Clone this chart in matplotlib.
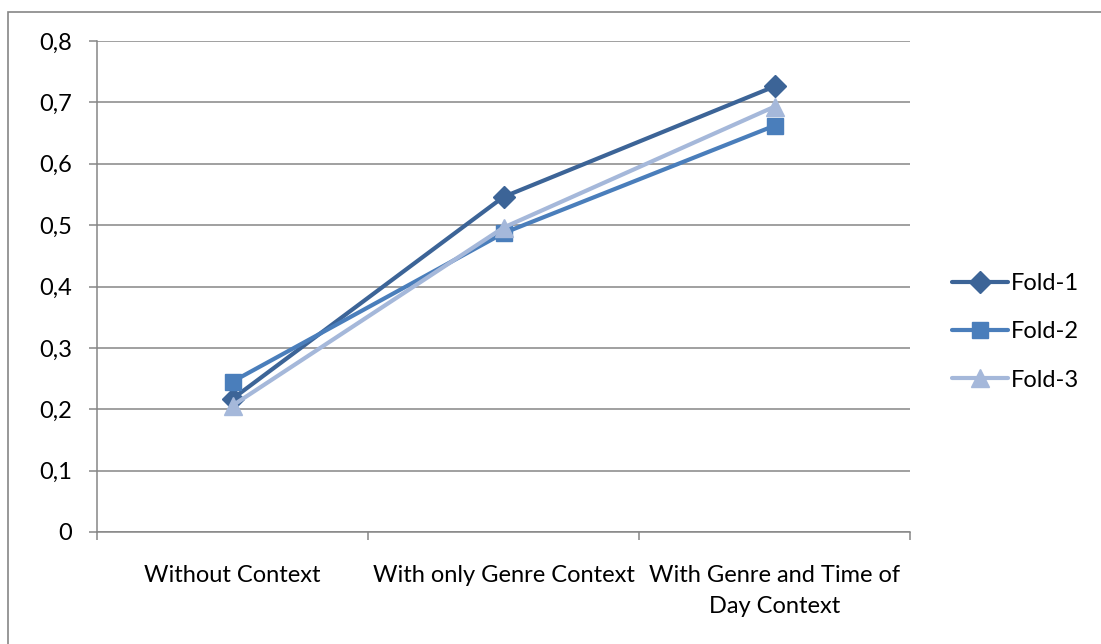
import matplotlib
matplotlib.use("Agg")
import matplotlib.pyplot as plt
import matplotlib.patches as mpatches
import numpy as np

# ── data ─────────────────────────────────────────────────────────────
categories = ["Without Context", "With only Genre Context",
              "With Genre and Time of\nDay Context"]
fold_1 = [0.217, 0.546, 0.726]
fold_2 = [0.245, 0.487, 0.662]
fold_3 = [0.206, 0.496, 0.693]
series_names = ["Fold-1", "Fold-2", "Fold-3"]
y_ticks = [0, 0.1, 0.2, 0.3, 0.4, 0.5, 0.6, 0.7, 0.8]

plt.rcParams["font.family"] = ["Lato", "DejaVu Sans"]
GRID = "#868686"
FS = 17

fig = plt.figure(figsize=(11.01, 6.44), dpi=100)
ax = fig.add_axes([97 / 1101, 1 - 532 / 644, (910 - 97) / 1101, (532 - 41) / 644])

x = np.arange(len(categories))
styles = [("#3C6497", "D", 11), ("#4A7EBB", "s", 12), ("#A5B8DA", "^", 13)]
for vals, name, (col, mk, ms) in zip([fold_1, fold_2, fold_3], series_names, styles):
    ax.plot(x, vals, color=col, lw=3.0, marker=mk, markersize=ms,
            markeredgecolor=col, label=name, solid_capstyle="round")

ax.set_xlim(-0.5, len(categories) - 0.5)
ax.set_ylim(0, 0.8)
ax.set_yticks(y_ticks)
ax.set_yticklabels([("%g" % v).replace(".", ",") for v in y_ticks], fontsize=FS)
ax.yaxis.grid(True, color=GRID, lw=1.1)
ax.set_axisbelow(True)

# category labels centred in bands, tick marks on band edges
ax.set_xticks(x)
ax.set_xticklabels(categories, fontsize=FS, linespacing=1.55, va="top")
ax.tick_params(axis="x", length=0, pad=24)
ax.set_xticks(np.arange(-0.5, len(categories)), minor=True)
ax.tick_params(axis="x", which="minor", length=6, color=GRID, width=1.1, direction="out")
ax.tick_params(axis="y", length=6, color=GRID, width=1.1, pad=12)

for side in ("top", "right"):
    ax.spines[side].set_visible(False)
for side in ("left", "bottom"):
    ax.spines[side].set_color(GRID)
    ax.spines[side].set_linewidth(1.1)

ax.legend(loc="center left", bbox_to_anchor=(935 / 1101, 1 - 332 / 644),
          bbox_transform=fig.transFigure, frameon=False, fontsize=FS,
          handlelength=2.4, handletextpad=0.1, labelspacing=1.15,
          borderpad=0.2)

# outer chart frame
fig.patches.append(mpatches.Rectangle((8 / 1101, -0.1), 1.2, 1 - 12 / 644 + 0.1,
                                      transform=fig.transFigure, fill=False,
                                      edgecolor=GRID, lw=1.2))

fig.savefig("out.png", dpi=100)
